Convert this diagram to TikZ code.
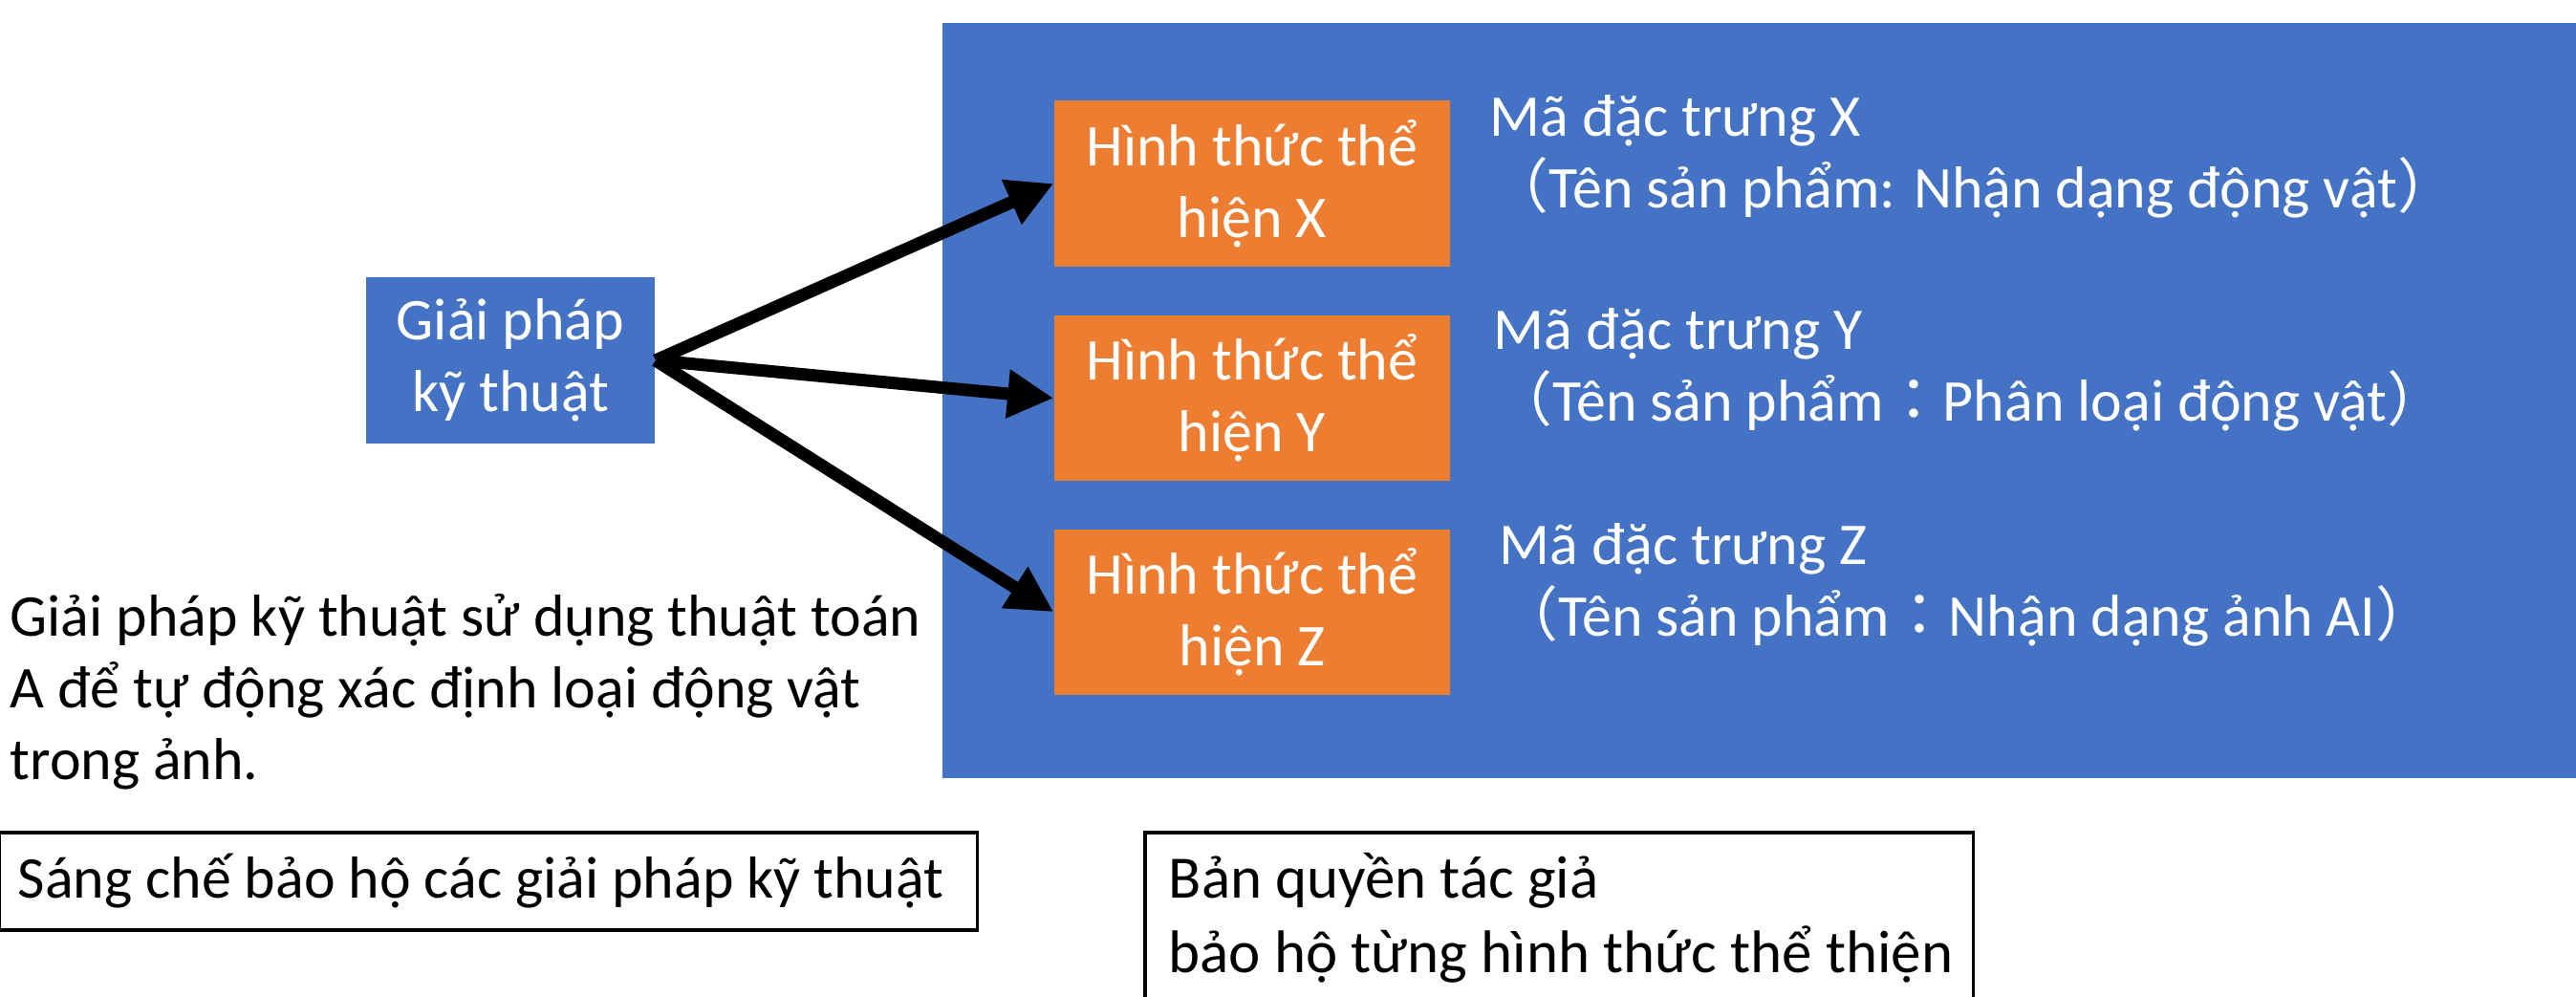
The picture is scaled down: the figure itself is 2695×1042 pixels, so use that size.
\documentclass[tikz,border=0pt]{standalone}
\usepackage{fontspec}
\setmainfont{Carlito}
\newfontfamily\cjk{Noto Sans CJK JP}
\usetikzlibrary{positioning,arrows.meta}
\definecolor{panelblue}{HTML}{4472C4}
\definecolor{formorange}{HTML}{ED7D31}

\begin{document}
\begin{tikzpicture}[x=0.01cm, y=-0.01cm]
\tikzstyle{txt}=[font=\fontsize{17.6}{21.3}\selectfont]
\tikzstyle{form}=[txt, rectangle, fill=formorange, text=white, align=center, minimum width=4.14cm, minimum height=1.73cm, inner sep=0pt]
\tikzstyle{desc}=[txt, text=white, align=left, inner sep=0pt, anchor=base west]
\tikzstyle{connect}=[-{Triangle[length=0.48cm, width=0.48cm]}, line width=0.13cm]
\tikzstyle{box}=[rectangle, draw=black, line width=1pt, align=flush left, anchor=north west]
  \useasboundingbox (0,0) rectangle (2695,1042);
  \node[fill=panelblue, minimum width=17.2cm, minimum height=7.9cm, anchor=north west, inner sep=0pt] (panel) at (985,23) {};
  \node[txt, fill=panelblue, text=white, align=center, minimum width=3.02cm, minimum height=1.73cm, inner sep=0pt] (giai) at (534,377) {Giải pháp\\kỹ thuật};
  \node[form] (hx) at (1310,192) {Hình thức thể\\hiện X};
  \node[form, below=0.5cm of hx] (hy) {Hình thức thể\\hiện Y};
  \node[form, below=0.49cm of hy] (hz) {Hình thức thể\\hiện Z};
  % base anchor sits on the last line
  \node[desc] (dx) at (1558,217) {Mã đặc trưng X\\{\cjk （}Tên sản phẩm: Nhận dạng động vật{\cjk ）}};
  \node[desc] (dy) at (1562,440) {Mã đặc trưng Y\\{\cjk （}Tên sản phẩm{\cjk ：}Phân loại động vật{\cjk ）}};
  \node[desc] (dz) at (1568,665) {Mã đặc trưng Z\\{\cjk （}Tên sản phẩm{\cjk ：}Nhận dạng ảnh AI{\cjk ）}};
  \path (giai.east) edge [connect] (hx.west)
        (giai.east) edge [connect] (hy.west)
        (giai.east) edge [connect] (hz.west);
  \node[txt, align=left, anchor=base west, inner sep=0pt] (note) at (10,815) {Giải pháp kỹ thuật sử dụng thuật toán\\A để tự động xác định loại động vật\\trong ảnh.};
  \node[box, font=\fontsize{17.6}{21.3}\selectfont, text width=9.83cm, inner xsep=0.2cm, minimum height=1.02cm] (patent) at (-3,869) {\mbox{Sáng chế bảo hộ các giải pháp kỹ thuật}};
  \node[box, font=\fontsize{17.9}{22.4}\selectfont, text width=8.16cm, inner xsep=0.25cm, minimum height=1.79cm] (copyright) at (1196,869) {\mbox{Bản quyền tác giả}\\\mbox{bảo hộ từng hình thức thể thiện}};
\end{tikzpicture}
\end{document}
